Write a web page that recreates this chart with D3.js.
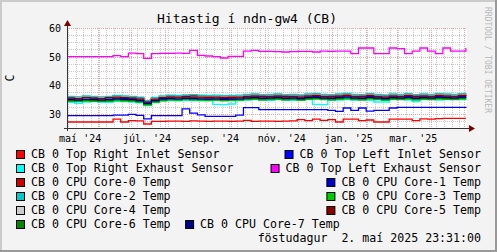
<!DOCTYPE html>
<html>
<head>
<meta charset="utf-8">
<script src="https://cdn.jsdelivr.net/npm/d3@7"></script>
<style>
  body { margin: 0; background: #fff; }
  text { font-family: "DejaVu Sans Mono", monospace; white-space: pre; }
</style>
</head>
<body>
<svg id="chart" width="497" height="252"></svg>
<script>
// time span of the graph (one year)
var tStart = new Date(2024, 4, 4, 0, 0);
var tEnd = new Date(2025, 4, 4, 0, 0);

// weekly samples
var redInlet = [27.1,27.1,27.1,27.1,27.1,27.1,28.1,27.1,27.6,27.5,26.4,27.3,27.3,27.4,27.4,27.3,27.5,27.4,27.3,27.4,27.4,27.3,27.4,27.7,27.3,27.4,27.4,27.3,27.4,27.5,27.9,27.6,28.1,27.7,27.9,27.1,28.1,28.1,27.6,27.8,27.1,27.1,28.1,28.1,28.1,27.6,28.2,28.1,28.3,28.4,28.4,28.4,28.4];
var leftInlet = [29.3,29.3,29.3,29.3,29.3,29.3,29.5,29.5,29.8,29.4,28.2,29.3,29.3,29.3,29.3,31.7,30.2,29.6,29.1,29.1,29.1,29.1,29.5,32.1,32.1,31.4,31.4,31.4,31.4,31.4,31.4,31.4,31.4,31.4,31.2,30.8,32.0,31.2,32.0,30.9,31.2,31.2,32.0,32.2,32.2,32.2,32.2,32.2,32.2,32.2,32.2,32.2,32.4];
var rightExhaust = [34.0,33.6,34.1,34.2,34.1,34.0,34.3,34.2,34.1,33.8,32.8,33.9,34.5,34.6,34.5,34.7,34.6,34.5,34.6,33.3,33.2,33.4,34.6,34.8,34.9,34.8,34.7,34.9,34.8,34.7,34.8,34.9,33.3,33.2,34.7,34.8,34.9,34.8,34.9,34.7,34.1,34.1,34.9,35.0,34.8,34.2,34.9,35.0,34.8,34.9,35.0,34.9,35.0];
var leftExhaust = [50.0,50.0,50.0,50.0,50.0,50.0,50.3,50.0,51.2,51.0,49.4,51.0,51.1,51.1,51.2,51.1,52.2,50.4,50.2,50.0,49.5,50.1,50.1,51.9,52.2,51.8,51.8,51.7,51.6,51.7,51.8,51.8,51.6,51.9,51.8,51.9,51.9,51.0,53.0,53.0,51.0,51.0,53.0,52.8,51.0,51.9,53.0,51.9,51.0,53.0,51.9,51.9,53.0];
var core0 = [35.8,35.9,35.8,35.8,35.9,35.8,36.2,35.9,36.0,35.6,34.4,35.4,35.9,36.2,36.1,36.3,36.4,36.2,36.0,36.1,36.2,36.0,36.1,36.4,36.5,36.3,36.4,36.5,36.3,36.4,36.2,36.5,36.6,36.4,36.3,36.5,36.7,36.4,36.3,36.6,36.4,36.2,36.5,36.4,36.6,36.3,36.5,36.4,36.6,36.5,36.4,36.6,36.5];
var core1 = [35.3,35.2,35.3,35.4,35.3,35.2,35.5,35.4,35.3,35.0,33.9,35.0,35.4,35.7,35.6,35.8,35.7,35.6,35.5,35.6,35.4,35.5,35.6,35.9,36.0,35.8,35.9,36.0,35.8,35.9,35.7,36.0,36.1,35.9,35.8,36.0,36.2,35.9,35.8,36.1,35.9,35.7,36.0,35.9,36.1,35.8,36.0,35.9,36.1,36.0,35.9,36.1,36.0];
var core2 = [36.1,36.0,36.2,36.1,36.0,36.1,36.4,36.2,36.1,35.8,34.6,35.7,36.2,36.5,36.4,36.6,36.7,36.5,36.4,36.5,36.3,36.4,36.5,36.8,36.9,36.7,36.8,36.9,36.7,36.8,36.6,36.9,37.0,36.8,36.7,36.9,37.1,36.8,36.7,37.0,36.8,36.6,36.9,36.8,37.0,36.7,36.9,36.8,37.0,36.9,36.8,37.0,36.9];
var core3 = [34.3,34.2,34.4,34.3,34.2,34.3,34.6,34.4,34.3,34.0,33.0,34.0,34.5,34.8,34.7,34.9,34.8,34.7,34.6,34.7,34.5,34.6,34.7,34.9,35.0,34.8,34.9,35.0,34.8,34.9,34.7,35.0,35.1,34.9,34.8,35.0,35.2,34.9,34.8,35.1,34.9,34.7,35.0,34.9,35.1,34.8,35.0,34.9,35.1,35.0,34.9,35.1,35.0];
var core4 = [35.6,35.7,35.5,35.6,35.7,35.6,35.9,35.7,35.6,35.3,34.2,35.2,35.7,36.0,35.9,36.1,36.0,35.9,35.8,35.9,35.7,35.8,35.9,36.2,36.3,36.1,36.2,36.3,36.1,36.2,36.0,36.3,36.4,36.2,36.1,36.3,36.5,36.2,36.1,36.4,36.2,36.0,36.3,36.2,36.4,36.1,36.3,36.2,36.4,36.3,36.2,36.4,36.3];
var core5 = [35.5,35.4,35.6,35.5,35.4,35.6,35.8,35.6,35.5,35.2,34.1,35.1,35.6,35.9,35.8,36.0,35.9,35.8,35.7,35.8,35.6,35.7,35.8,36.1,36.2,36.0,36.1,36.2,36.0,36.1,35.9,36.2,36.3,36.1,36.0,36.2,36.4,36.1,36.0,36.3,36.1,35.9,36.2,36.1,36.3,36.0,36.2,36.1,36.3,36.2,36.1,36.3,36.2];
var core6 = [34.6,34.5,34.7,34.6,34.5,34.6,34.9,34.7,34.6,34.3,33.3,34.3,34.8,35.1,35.0,35.2,35.1,35.0,34.9,35.0,34.8,34.9,35.0,35.2,35.3,35.1,35.2,35.3,35.1,35.2,35.0,35.3,35.4,35.2,35.1,35.3,35.5,35.2,35.1,35.4,35.2,35.0,35.3,35.2,35.4,35.1,35.3,35.2,35.4,35.3,35.2,35.4,35.3];
var core7 = [34.9,34.8,35.0,34.9,34.8,34.9,35.2,35.0,34.9,34.6,33.6,34.6,35.1,35.3,35.2,35.4,35.3,35.2,35.1,35.2,35.0,35.1,35.2,35.5,35.6,35.4,35.5,35.6,35.4,35.5,35.3,35.6,35.7,35.5,35.4,35.6,35.8,35.5,35.4,35.7,35.5,35.3,35.6,35.5,35.7,35.4,35.6,35.5,35.7,35.6,35.5,35.7,35.6];

var seriesNames = ["CB 0 Top Right Inlet Sensor", "CB 0 Top Left Inlet Sensor",
    "CB 0 Top Right Exhaust Sensor", "CB 0 Top Left Exhaust Sensor",
    "CB 0 CPU Core-0 Temp", "CB 0 CPU Core-1 Temp", "CB 0 CPU Core-2 Temp", "CB 0 CPU Core-3 Temp",
    "CB 0 CPU Core-4 Temp", "CB 0 CPU Core-5 Temp", "CB 0 CPU Core-6 Temp", "CB 0 CPU Core-7 Temp"];
var seriesColors = ["#ff0000", "#0000ff", "#00ffff", "#ff00ff", "#cc0000", "#0000cc",
    "#00cccc", "#00cc00", "#cccccc", "#880000", "#008800", "#000088"];
var seriesValues = [redInlet, leftInlet, rightExhaust, leftExhaust, core0, core1,
    core2, core3, core4, core5, core6, core7];

var yTicks = [30, 40, 50, 60];
var xTickLabels = ["maí '24", "júl. '24", "sep. '24", "nóv. '24", "jan. '25", "mar. '25"];
var title = "Hitastig í ndn-gw4 (CB)";
var footer = "föstudagur  2. maí 2025 23:31:00";

var W = 497, H = 252;
var svg = d3.select("#chart");

// background + shaded frame
svg.append("rect").attr("width", W).attr("height", H).attr("fill", "#f3f3f3");
svg.append("path").attr("d", "M0,0H497V2H2V252H0Z").attr("fill", "#cbcbcb");
svg.append("path").attr("d", "M497,0V252H0V250H495V0Z").attr("fill", "#999999");

var x = d3.scaleTime().domain([tStart, tEnd]).range([67, 467]),
    y = d3.scaleLinear().domain([25, 60]).range([128, 28]);

svg.append("rect").attr("x", 67).attr("y", 28).attr("width", 400).attr("height", 100).attr("fill", "#ffffff");

var grid = svg.append("g").attr("shape-rendering", "crispEdges");

// minor grid
grid.selectAll(".hmin").data(d3.range(25, 60.01, 2.5).filter(function (v) { return v % 10 != 0; }))
    .enter().append("line")
    .attr("x1", 67).attr("x2", 467)
    .attr("y1", function (d) { return Math.round(y(d)) + 0.5; })
    .attr("y2", function (d) { return Math.round(y(d)) + 0.5; })
    .attr("stroke", "#c8c8c8").attr("stroke-dasharray", "1,1");

grid.selectAll(".vmin").data(d3.timeSunday.range(tStart, tEnd))
    .enter().append("line")
    .attr("x1", function (d) { return Math.round(x(d)) + 0.5; })
    .attr("x2", function (d) { return Math.round(x(d)) + 0.5; })
    .attr("y1", 28).attr("y2", 128)
    .attr("stroke", "#c8c8c8").attr("stroke-dasharray", "1,1");

// major grid
grid.selectAll(".hmaj").data(yTicks)
    .enter().append("line")
    .attr("x1", 67).attr("x2", 467)
    .attr("y1", function (d) { return Math.round(y(d)) + 0.5; })
    .attr("y2", function (d) { return Math.round(y(d)) + 0.5; })
    .attr("stroke", "#f4a0a0").attr("stroke-dasharray", "1,1");

grid.selectAll(".vmaj").data(d3.timeMonth.range(tStart, tEnd))
    .enter().append("line")
    .attr("x1", function (d) { return Math.round(x(d)) + 0.5; })
    .attr("x2", function (d) { return Math.round(x(d)) + 0.5; })
    .attr("y1", 28).attr("y2", 128)
    .attr("stroke", "#f4a0a0").attr("stroke-dasharray", "1,1");

// data lines
var line = d3.line()
    .x(function (d) { return x(d[0]); })
    .y(function (d) { return y(d[1]); })
    .curve(d3.curveStepAfter);

seriesValues.forEach(function (vals, k) {
    var pts = vals.map(function (v, i) { return [d3.timeDay.offset(tStart, i * 7), v]; });
    svg.append("path")
        .attr("d", line(pts))
        .attr("fill", "none")
        .attr("stroke", seriesColors[k])
        .attr("stroke-width", 1.3);
});

// axes
svg.append("line").attr("x1", 64).attr("x2", 470).attr("y1", 128.5).attr("y2", 128.5).attr("stroke", "#333");
svg.append("line").attr("x1", 67.5).attr("x2", 67.5).attr("y1", 131).attr("y2", 24).attr("stroke", "#333");
svg.append("path").attr("d", "M64,26L71,26L67.5,20Z").attr("fill", "#7f0000");
svg.append("path").attr("d", "M469,125L469,132L475,128.5Z").attr("fill", "#7f0000");

// tick labels
svg.selectAll(".ylab").data(yTicks).enter().append("text")
    .attr("x", 61).attr("y", function (d) { return y(d) + 4; })
    .attr("text-anchor", "end").attr("font-size", "10px").attr("fill", "#000")
    .text(function (d) { return d; });

// labels every second month, centred half a month after the month start
var labelMonths = d3.timeMonth.every(2).range(new Date(2024, 4, 1), tEnd);
svg.selectAll(".xlab").data(labelMonths).enter().append("text")
    .attr("x", function (d) { return x(d3.timeDay.offset(d, 15)); })
    .attr("y", 142)
    .attr("text-anchor", "middle").attr("font-size", "10px").attr("fill", "#000")
    .text(function (d, i) { return xTickLabels[i]; });

// title, unit, watermark
svg.append("text").attr("x", 247).attr("y", 23).attr("text-anchor", "middle")
    .attr("font-size", "13px").text(title);
svg.append("text").attr("transform", "translate(14,78) rotate(-90)").attr("text-anchor", "middle")
    .attr("font-size", "11.6px").text("C");
svg.append("text").attr("transform", "translate(485,60) rotate(90)").attr("text-anchor", "middle")
    .attr("font-size", "8px").attr("fill", "#b8b8b8").text("RRDTOOL / TOBI OETIKER");

// legend
var rowY = [154, 168, 182, 196, 210, 224];
var fs = "11.6px";

function legendItem(bx, yc, k) {
    svg.append("rect").attr("x", bx + 0.5).attr("y", yc - 4 + 0.5).attr("width", 8).attr("height", 8)
        .attr("fill", seriesColors[k]).attr("stroke", "#000");
    return svg.append("text").attr("x", bx + 15).attr("y", yc + 4).attr("font-size", fs).text(seriesNames[k]);
}

for (var r = 0; r < 6; r++) {
    var left = legendItem(16, rowY[r], r * 2);
    var k = r * 2 + 1;
    if (r < 5) {
        var t = svg.append("text").attr("x", 481).attr("y", rowY[r] + 4).attr("text-anchor", "end")
            .attr("font-size", fs).text(seriesNames[k]);
        var w = t.node().getComputedTextLength();
        svg.append("rect").attr("x", 481 - w - 15 + 0.5).attr("y", rowY[r] - 4 + 0.5).attr("width", 8).attr("height", 8)
            .attr("fill", seriesColors[k]).attr("stroke", "#000");
    } else {
        var lw = left.node().getComputedTextLength();
        legendItem(31 + lw + 14.5, rowY[r], k);
    }
}

svg.append("text").attr("x", 481).attr("y", 242).attr("text-anchor", "end")
    .attr("font-size", fs).text(footer);
</script>
</body>
</html>
